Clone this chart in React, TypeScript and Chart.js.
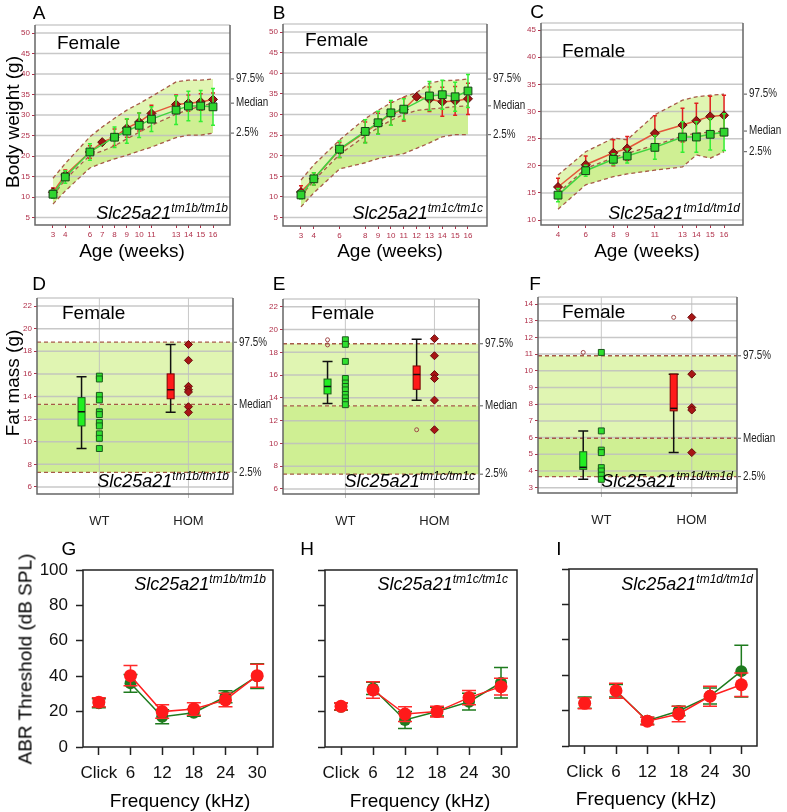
import React, { useEffect, useRef } from 'react';
import { Chart, registerables } from 'chart.js';

Chart.register(...registerables);
Chart.defaults.font.family = '"Liberation Sans", Arial, sans-serif';

// ---------------- Body weight (A, B, C) ----------------
const weeksA = [3, 4, 6, 7, 8, 9, 10, 11, 13, 14, 15, 16];
const wtA = [10.7, 14.9, 21.0, null, 24.6, 26.1, 27.5, 29.0, 31.2, 32.2, 32.2, 32.0];
const wtErrA = [1.0, 1.5, 2.0, null, 2.5, 3.0, 3.0, 3.0, 3.5, 3.6, 3.8, 4.5];
const homA = [11.2, 15.4, 21.0, 23.4, 24.6, 26.8, 28.3, 30.4, 32.6, 32.9, 33.2, 33.8];
const homErrA = [1.0, 1.2, 1.5, 0.5, 2.0, 2.2, 2.2, 2.0, 2.3, 2.0, 2.0, 1.6];
const upperA = [14.6, 18.2, 24.7, 27.1, 29.2, 31.2, 32.8, 34.5, 38.1, 38.5, 38.5, 38.8];
const medianA = [10.3, 14.3, 20.2, 21.2, 22.5, 24.2, 25.8, 27.5, 30.2, 31.3, 32.2, 32.9];
const lowerA = [8.3, 11.5, 17.1, 18.3, 19.3, 20.2, 21.2, 22.2, 24.5, 25.1, 25.1, 25.6];

const weeksB = [3, 4, 6, 8, 9, 10, 11, 12, 13, 14, 15, 16];
const wtB = [10.5, 14.4, 21.6, 25.9, 28.0, 30.4, 31.3, null, 34.5, 34.8, 34.3, 35.7];
const wtErrB = [1.0, 1.5, 2.0, 2.8, 2.8, 3.0, 2.5, null, 3.5, 3.5, 3.5, 4.0];
const homB = [11.2, 14.4, 21.4, 25.7, 27.8, 30.2, 31.2, 34.3, 33.7, 33.1, 33.3, 33.8];
const homErrB = [1.5, 1.5, 1.8, 2.5, 2.5, 2.8, 2.8, 0.5, 3.0, 3.5, 3.5, 3.8];
const upperB = [14.1, 17.8, 23.8, 29.0, 31.0, 32.8, 34.3, 35.3, 37.6, 38.2, 38.3, 38.6];
const medianB = [10.2, 14.0, 20.3, 24.8, 26.8, 28.6, 30.0, 31.0, 31.3, 31.6, 31.9, 32.1];
const lowerB = [7.6, 11.0, 16.8, 18.3, 19.3, 19.9, 20.5, 21.8, 23.1, 24.6, 25.1, 25.1];

const weeksC = [4, 6, 8, 9, 11, 13, 14, 15, 16];
const wtC = [14.6, 19.1, 21.2, 21.8, 23.4, 25.3, 25.3, 25.8, 26.2];
const wtErrC = [1.2, 1.0, 1.0, 1.3, 2.2, 2.8, 2.8, 2.9, 3.4];
const homC = [16.1, 20.2, 22.4, 23.2, 26.0, 27.5, 28.3, 29.1, 29.3];
const homErrC = [1.6, 1.6, 2.4, 2.2, 3.2, 3.1, 3.2, 3.7, 3.7];
const upperC = [18.3, 22.6, 25.1, 24.8, 29.4, 32.1, 32.7, 33.0, 33.2];
const medianC = [15.0, 19.5, 21.5, 22.3, 23.8, 25.5, 26.0, 26.2, 26.4];
const lowerC = [12.0, 16.5, 18.0, 18.5, 19.2, 19.8, 22.0, 21.4, 22.6];

const yTicksAB = [5, 10, 15, 20, 25, 30, 35, 40, 45, 50];
const yTicksC = [10, 15, 20, 25, 30, 35, 40, 45];

// ---------------- Fat mass (D, E, F) ----------------
// box stats: [whisker low, q1, median, q3, whisker high]
const boxWtD = [9.4, 11.4, 12.65, 13.9, 15.75];
const ptsWtD = [15.8, 15.55, 14.1, 13.7, 12.65, 12.4, 11.7, 11.4, 10.7, 10.3, 9.4];
const outWtD: number[] = [];
const boxHomD = [12.6, 13.8, 14.6, 16.0, 18.6];
const ptsHomD = [18.6, 17.2, 14.9, 14.6, 14.4, 13.1, 12.6];
const outHomD: number[] = [];
const refD = [18.8, 13.3, 7.3];

const boxWtE = [13.5, 14.35, 15.0, 15.65, 17.2];
const ptsWtE = [19.1, 18.7, 17.2, 15.7, 15.3, 15.0, 14.7, 14.3, 14.0, 13.7, 13.4];
const outWtE = [19.1, 18.65];
const boxHomE = [13.8, 14.75, 16.05, 16.8, 19.15];
const ptsHomE = [19.2, 17.7, 16.05, 15.7, 13.8, 11.2];
const outHomE = [11.2];
const refE = [18.75, 13.3, 7.3];

const boxWtF = [3.5, 4.1, 4.22, 5.15, 6.4];
const ptsWtF = [11.1, 6.4, 5.25, 5.1, 4.2, 4.0, 3.75, 3.5];
const outWtF = [11.1];
const boxHomF = [5.1, 7.6, 7.75, 9.8, 9.8];
const ptsHomF = [13.2, 9.8, 7.8, 7.65, 5.1];
const outHomF = [13.2];
const refF = [10.9, 5.96, 3.66];

const yTicksDE = [6, 8, 10, 12, 14, 16, 18, 20, 22];
const yTicksF = [3, 4, 5, 6, 7, 8, 9, 10, 11, 12, 13, 14];
const groupLabels = ['WT', 'HOM'];
const refLabels = ['97.5%', 'Median', '2.5%'];

// ---------------- ABR (G, H, I) ----------------
const freqLabels = ['Click', '6', '12', '18', '24', '30'];
const wtG = [24.7, 36.0, 17.1, 19.4, 28.4, 40.0];
const wtErrG = [2.5, 5.0, 4.0, 2.0, 3.4, 7.0];
const homG = [25.3, 40.3, 20.0, 21.5, 26.6, 40.3];
const homErrG = [2.5, 5.7, 3.8, 3.5, 3.8, 6.5];
const wtH = [22.8, 33.1, 15.3, 20.0, 25.6, 36.3];
const wtErrH = [2.0, 3.5, 4.8, 2.5, 4.7, 8.6];
const homH = [23.0, 32.2, 18.6, 20.0, 27.9, 34.1];
const homErrH = [2.0, 4.7, 4.2, 3.0, 4.0, 4.7];
const wtI = [24.5, 31.2, 14.3, 19.8, 28.2, 42.3];
const wtErrI = [3.2, 3.5, 2.0, 2.7, 4.5, 14.6];
const homI = [24.1, 31.2, 14.0, 18.1, 28.1, 34.6];
const homErrI = [3.0, 4.2, 2.2, 4.4, 5.7, 6.7];
const yTicksABR = [0, 20, 40, 60, 80, 100];

// ---------------- styles ----------------
const MAROON = '#b0304a';
const BAND_UP = '#e0f5b2';
const BAND_LO = '#cfef93';
const BAND_LINE = '#a65a48';
const GRID = 'rgba(190,190,190,0.85)';

const errorBarPlugin = {
  id: 'errorBars',
  beforeDatasetDraw(chart: any, args: any) {
    const ds = chart.data.datasets[args.index];
    if (!ds.errors) return;
    const meta = chart.getDatasetMeta(args.index);
    const y = chart.scales.y;
    const ctx = chart.ctx;
    ctx.save();
    ctx.strokeStyle = ds.errColor;
    ctx.lineWidth = ds.errWidth || 1.5;
    meta.data.forEach((el: any, i: number) => {
      const e = ds.errors[i];
      const raw = ds.data[i];
      const v = raw !== null && typeof raw === 'object' ? raw.y : raw;
      if (e == null || v == null) return;
      const yt = y.getPixelForValue(v + e);
      const yb = y.getPixelForValue(v - e);
      const x = el.x;
      const c = ds.capW / 2;
      ctx.beginPath();
      ctx.moveTo(x, yt); ctx.lineTo(x, yb);
      ctx.moveTo(x - c, yt); ctx.lineTo(x + c, yt);
      ctx.moveTo(x - c, yb); ctx.lineTo(x + c, yb);
      ctx.stroke();
    });
    ctx.restore();
  },
};
Chart.register(errorBarPlugin);

function decorPlugin(cfg: any) {
  return {
    id: 'decor',
    beforeDatasetsDraw(chart: any) {
      const { ctx, chartArea: ca, scales } = chart;
      const x = scales.x, y = scales.y;
      ctx.save();
      if (cfg.band) {
        const b = cfg.band;
        const px = b.xs.map((v: number) => x.getPixelForValue(v));
        const py = (arr: number[]) => arr.map((v) => y.getPixelForValue(v));
        const U = py(b.upper), M = py(b.median), L = py(b.lower);
        const poly = (top: number[], bot: number[], color: string) => {
          ctx.beginPath();
          px.forEach((xx: number, i: number) => (i ? ctx.lineTo(xx, top[i]) : ctx.moveTo(xx, top[i])));
          for (let i = px.length - 1; i >= 0; i--) ctx.lineTo(px[i], bot[i]);
          ctx.closePath();
          ctx.fillStyle = color;
          ctx.fill();
        };
        poly(U, M, BAND_UP);
        poly(M, L, BAND_LO);
      }
      if (cfg.grid) {
        ctx.strokeStyle = GRID;
        ctx.lineWidth = 1.5;
        y.ticks.forEach((t: any) => {
          const yy = y.getPixelForValue(t.value);
          ctx.beginPath(); ctx.moveTo(ca.left, yy); ctx.lineTo(ca.right, yy); ctx.stroke();
        });
        if (cfg.vgrid) {
          ctx.lineWidth = 1;
          cfg.vgrid.forEach((v: number) => {
            const xx = x.getPixelForValue(v);
            ctx.beginPath(); ctx.moveTo(xx, ca.top); ctx.lineTo(xx, ca.bottom); ctx.stroke();
          });
        }
      }
      if (cfg.band) {
        const b = cfg.band;
        ctx.setLineDash([4, 3]);
        ctx.strokeStyle = BAND_LINE;
        ctx.lineWidth = 1.3;
        [b.upper, b.median, b.lower].forEach((arr: number[]) => {
          ctx.beginPath();
          arr.forEach((v, i) => {
            const xx = x.getPixelForValue(b.xs[i]);
            const yy = y.getPixelForValue(v);
            i ? ctx.lineTo(xx, yy) : ctx.moveTo(xx, yy);
          });
          ctx.stroke();
        });
        ctx.setLineDash([]);
      }
      if (cfg.boxes) {
        cfg.boxes.forEach((bx: any) => {
          const xc = x.getPixelForValue(bx.x);
          const [lo, q1, med, q3, hi] = bx.stats.map((v: number) => y.getPixelForValue(v));
          const hw = 3.5, cw = 5;
          ctx.strokeStyle = '#111';
          ctx.lineWidth = 1.5;
          ctx.beginPath();
          ctx.moveTo(xc, hi); ctx.lineTo(xc, q3);
          ctx.moveTo(xc, q1); ctx.lineTo(xc, lo);
          ctx.moveTo(xc - cw, hi); ctx.lineTo(xc + cw, hi);
          ctx.moveTo(xc - cw, lo); ctx.lineTo(xc + cw, lo);
          ctx.stroke();
          ctx.fillStyle = bx.fill;
          ctx.fillRect(xc - hw, q3, 2 * hw, q1 - q3);
          ctx.strokeStyle = bx.edge;
          ctx.lineWidth = 1;
          ctx.strokeRect(xc - hw, q3, 2 * hw, q1 - q3);
          ctx.strokeStyle = '#111';
          ctx.lineWidth = 1.5;
          ctx.beginPath(); ctx.moveTo(xc - hw, med); ctx.lineTo(xc + hw, med); ctx.stroke();
        });
      }
      ctx.restore();
    },
    afterDatasetsDraw(chart: any) {
      const { ctx, chartArea: ca, scales } = chart;
      const y = scales.y;
      ctx.save();
      if (cfg.frame === 'soft') {
        ctx.strokeStyle = '#cccccc';
        ctx.lineWidth = 1.5;
        ctx.beginPath(); ctx.moveTo(ca.left, ca.top); ctx.lineTo(ca.right, ca.top); ctx.stroke();
        ctx.strokeStyle = '#666';
        ctx.beginPath();
        ctx.moveTo(ca.left, ca.top); ctx.lineTo(ca.left, ca.bottom); ctx.lineTo(ca.right, ca.bottom); ctx.lineTo(ca.right, ca.top);
        ctx.stroke();
      } else if (cfg.frame === 'hard') {
        ctx.strokeStyle = '#222';
        ctx.lineWidth = 1.5;
        ctx.strokeRect(ca.left, ca.top, ca.right - ca.left, ca.bottom - ca.top);
      }
      if (cfg.band) {
        const b = cfg.band;
        const n = b.xs.length - 1;
        ctx.font = '12px "Liberation Sans", Arial, sans-serif';
        ctx.fillStyle = '#222';
        ctx.textBaseline = 'middle';
        ctx.textAlign = 'left';
        ctx.strokeStyle = '#555';
        ctx.lineWidth = 1;
        [b.upper, b.median, b.lower].forEach((arr: number[], k: number) => {
          const yy = y.getPixelForValue(arr[n]);
          ctx.beginPath(); ctx.moveTo(ca.right + 1, yy); ctx.lineTo(ca.right + 4, yy); ctx.stroke();
          ctx.save();
          ctx.translate(ca.right + 6, yy);
          ctx.scale(0.82, 1);
          ctx.fillText(refLabels[k], 0, 0);
          ctx.restore();
        });
      }
      ctx.restore();
    },
  };
}

function fixedTicks(values: number[]) {
  return (scale: any) => {
    scale.ticks = values.map((v) => ({ value: v }));
  };
}

function growthConfig(p: any) {
  const series = (ys: any[], es: any[]) => {
    const data: any[] = [];
    const errs: any[] = [];
    p.weeks.forEach((w: number, i: number) => {
      if (ys[i] == null) return;
      data.push({ x: w, y: ys[i] });
      errs.push(es[i]);
    });
    return { data, errs };
  };
  const g = series(p.wt, p.wtErr);
  const r = series(p.hom, p.homErr);
  return {
    type: 'line',
    data: {
      datasets: [
        {
          data: g.data, errors: g.errs, errColor: '#33ee33', capW: 4, errWidth: 1.5,
          borderColor: '#3fd43f', borderWidth: 1.5, pointStyle: 'rect', pointRadius: 5.5,
          pointBackgroundColor: '#2fd52f', pointBorderColor: '#173f17', pointBorderWidth: 1,
        },
        {
          data: r.data, errors: r.errs, errColor: '#e02020', capW: 4, errWidth: 1.5,
          borderColor: '#e4573a', borderWidth: 1.5, pointStyle: 'rectRot', pointRadius: 4.5,
          pointBackgroundColor: '#a01515', pointBorderColor: '#5a0a0a', pointBorderWidth: 1,
        },
      ],
    },
    options: {
      animation: false, responsive: false, devicePixelRatio: 1,
      layout: { padding: { top: p.padTop, right: p.padRight, left: 0, bottom: 0 } },
      plugins: { legend: { display: false }, tooltip: { enabled: false } },
      scales: {
        x: {
          type: 'linear', min: p.xMin, max: p.xMax,
          afterBuildTicks: fixedTicks(p.weeks),
          afterFit: (s: any) => { s.height = p.xH; },
          grid: { drawOnChartArea: false, tickLength: 3, tickColor: MAROON },
          border: { display: false },
          ticks: { font: { size: 8 }, color: MAROON, padding: 2, maxRotation: 0, autoSkip: false, callback: (v: any) => String(v) },
        },
        y: {
          type: 'linear', min: p.yMin, max: p.yMax,
          afterBuildTicks: fixedTicks(p.yTicks),
          afterFit: (s: any) => { s.width = p.yW; },
          grid: { drawOnChartArea: false, tickLength: 3, tickColor: MAROON },
          border: { display: false },
          ticks: { font: { size: 8 }, color: MAROON, padding: 2, callback: (v: any) => String(v) },
        },
      },
    },
    plugins: [decorPlugin({
      band: { xs: p.weeks, upper: p.upper, median: p.median, lower: p.lower },
      grid: true, frame: 'soft',
    })],
  };
}

const groupPos = [1, 2];
const pointsShift = 0.2;

function boxConfig(p: any) {
  const px = groupPos.map((g) => g + pointsShift);
  return {
    type: 'scatter',
    data: {
      datasets: [
        {
          data: p.ptsWt.map((v: number) => ({ x: px[0], y: v })),
          pointStyle: 'rect', pointRadius: 4.2,
          pointBackgroundColor: '#2fe02f', pointBorderColor: '#1a5a1a', pointBorderWidth: 1,
        },
        {
          data: p.ptsHom.map((v: number) => ({ x: px[1], y: v })),
          pointStyle: 'rectRot', pointRadius: 4,
          pointBackgroundColor: '#a81515', pointBorderColor: '#6a0c0c', pointBorderWidth: 1,
        },
        {
          data: [
            ...p.outWt.map((v: number) => ({ x: groupPos[0], y: v })),
            ...p.outHom.map((v: number) => ({ x: groupPos[1], y: v })),
          ],
          pointStyle: 'circle', pointRadius: 2,
          pointBackgroundColor: 'rgba(255,255,255,0)', pointBorderColor: '#a04848', pointBorderWidth: 1,
        },
      ],
    },
    options: {
      animation: false, responsive: false, devicePixelRatio: 1,
      layout: { padding: { top: p.padTop, right: p.padRight, left: 0, bottom: 0 } },
      plugins: { legend: { display: false }, tooltip: { enabled: false } },
      scales: {
        x: {
          type: 'linear', min: 0.5, max: 2.7,
          afterBuildTicks: fixedTicks(px),
          afterFit: (s: any) => { s.height = p.xH; },
          grid: { drawOnChartArea: false, tickLength: 4, tickColor: '#bbb' },
          border: { display: false },
          ticks: { font: { size: 13 }, color: '#222', padding: 16, maxRotation: 0, autoSkip: false, callback: (_v: any, i: number) => groupLabels[i] },
        },
        y: {
          type: 'linear', min: p.yMin, max: p.yMax,
          afterBuildTicks: fixedTicks(p.yTicks),
          afterFit: (s: any) => { s.width = p.yW; },
          grid: { drawOnChartArea: false, tickLength: 3, tickColor: MAROON },
          border: { display: false },
          ticks: { font: { size: 8 }, color: MAROON, padding: 2, callback: (v: any) => String(v) },
        },
      },
    },
    plugins: [decorPlugin({
      band: { xs: [0.5, 2.7], upper: [p.ref[0], p.ref[0]], median: [p.ref[1], p.ref[1]], lower: [p.ref[2], p.ref[2]] },
      grid: true, vgrid: px, frame: 'soft',
      boxes: [
        { x: groupPos[0], stats: p.boxWt, fill: '#22ee22', edge: '#1a5a1a' },
        { x: groupPos[1], stats: p.boxHom, fill: '#ff1a1a', edge: '#700' },
      ],
    })],
  };
}

function abrConfig(p: any) {
  const seg = (color: string) => ({ borderColor: (c: any) => (c.p0DataIndex === 0 ? 'rgba(0,0,0,0)' : color) });
  return {
    type: 'line',
    data: {
      labels: freqLabels,
      datasets: [
        {
          data: p.hom, errors: p.homErr, errColor: '#ff2a2a', capW: 14, errWidth: 1.5,
          borderColor: '#ff2020', borderWidth: 1.5, segment: seg('#ff2020'),
          pointStyle: 'circle', pointRadius: 6.5, pointBackgroundColor: '#ff1a1a', pointBorderColor: '#ff1a1a', pointBorderWidth: 0,
        },
        {
          data: p.wt, errors: p.wtErr, errColor: '#1e7b1e', capW: 14, errWidth: 1.5,
          borderColor: '#1e7b1e', borderWidth: 1.5, segment: seg('#1e7b1e'),
          pointStyle: 'circle', pointRadius: 6, pointBackgroundColor: '#1e7b1e', pointBorderColor: '#1e7b1e', pointBorderWidth: 0,
        },
      ],
    },
    options: {
      animation: false, responsive: false, devicePixelRatio: 1,
      layout: { padding: { top: p.padTop, right: p.padRight, left: 0, bottom: 0 } },
      plugins: { legend: { display: false }, tooltip: { enabled: false } },
      scales: {
        x: {
          type: 'category', offset: true,
          afterFit: (s: any) => { s.height = p.xH; },
          grid: { drawOnChartArea: false, offset: false, tickLength: 8, tickColor: '#222', tickWidth: 1.5 },
          border: { display: false },
          ticks: { font: { size: 17 }, color: '#111', padding: 8, maxRotation: 0, autoSkip: false },
        },
        y: {
          type: 'linear', min: 0, max: 100,
          afterBuildTicks: fixedTicks(yTicksABR),
          afterFit: (s: any) => { s.width = p.yW; },
          grid: { drawOnChartArea: false, tickLength: 7, tickColor: '#222', tickWidth: 1.5 },
          border: { display: false },
          ticks: { font: { size: 17 }, color: '#111', padding: 8, callback: (v: any) => (p.showY ? String(v) : '') },
        },
      },
    },
    plugins: [decorPlugin({ frame: 'hard' })],
  };
}

function ChartCanvas({ left, top, w, h, config }: any) {
  const ref = useRef<HTMLCanvasElement>(null);
  useEffect(() => {
    const chart = new Chart(ref.current as any, config() as any);
    return () => chart.destroy();
  }, []);
  return <canvas ref={ref} width={w} height={h} style={{ position: 'absolute', left, top, width: w, height: h }} />;
}

function T({ x, y, children, size = 19, rotate = false, anchor = 'center', italic = false }: any) {
  const tx = anchor === 'center' ? '-50%' : anchor === 'right' ? '-100%' : '0';
  return (
    <div style={{
      position: 'absolute', left: x, top: y,
      transform: `translate(${tx}, -50%)${rotate ? ' rotate(-90deg)' : ''}`,
      fontSize: size, lineHeight: 1, whiteSpace: 'nowrap', color: '#000',
      fontStyle: italic ? 'italic' : 'normal',
    }}>{children}</div>
  );
}

function Gene({ xr, base, sup }: any) {
  return (
    <div style={{
      position: 'absolute', right: 787 - xr, top: base - 15.25,
      fontSize: 18, lineHeight: '18px', fontStyle: 'italic', whiteSpace: 'nowrap', color: '#000',
    }}>
      Slc25a21<span style={{ fontSize: 12, position: 'relative', top: -7 }}>{sup}</span>
    </div>
  );
}

export default function App() {
  const growth = [
    { left: 0, top: 0, w: 285, h: 245, yW: 35, padTop: 25, padRight: 55, xH: 20, xMin: 1.54, xMax: 17.38, yMin: 3.2, yMax: 51.95, weeks: weeksA, yTicks: yTicksAB, wt: wtA, wtErr: wtErrA, hom: homA, homErr: homErrA, upper: upperA, median: medianA, lower: lowerA },
    { left: 265, top: 0, w: 280, h: 246, yW: 18, padTop: 24, padRight: 58, xH: 20, xMin: 1.6, xMax: 17.48, yMin: 2.96, yMax: 51.95, weeks: weeksB, yTicks: yTicksAB, wt: wtB, wtErr: wtErrB, hom: homB, homErr: homErrB, upper: upperB, median: medianB, lower: lowerB },
    { left: 525, top: 0, w: 262, h: 245, yW: 16, padTop: 23, padRight: 44, xH: 20, xMin: 2.77, xMax: 17.37, yMin: 9.1, yMax: 46.3, weeks: weeksC, yTicks: yTicksC, wt: wtC, wtErr: wtErrC, hom: homC, homErr: homErrC, upper: upperC, median: medianC, lower: lowerC },
  ];
  const boxes = [
    { left: 0, top: 270, w: 285, h: 262, yW: 37, padTop: 28, padRight: 52, xH: 38, yMin: 5.38, yMax: 22.71, yTicks: yTicksDE, ptsWt: ptsWtD, ptsHom: ptsHomD, outWt: outWtD, outHom: outHomD, boxWt: boxWtD, boxHom: boxHomD, ref: refD },
    { left: 265, top: 270, w: 280, h: 262, yW: 18, padTop: 29, padRight: 66, xH: 38, yMin: 5.56, yMax: 22.68, yTicks: yTicksDE, ptsWt: ptsWtE, ptsHom: ptsHomE, outWt: outWtE, outHom: outHomE, boxWt: boxWtE, boxHom: boxHomE, ref: refE },
    { left: 525, top: 270, w: 262, h: 262, yW: 13, padTop: 27, padRight: 50, xH: 39, yMin: 2.68, yMax: 14.42, yTicks: yTicksF, ptsWt: ptsWtF, ptsHom: ptsHomF, outWt: outWtF, outHom: outHomF, boxWt: boxWtF, boxHom: boxHomF, ref: refF },
  ];
  const abr = [
    { left: 0, top: 540, w: 290, h: 272, yW: 83, padTop: 30, padRight: 17, xH: 65, showY: true, wt: wtG, wtErr: wtErrG, hom: homG, homErr: homErrG },
    { left: 290, top: 540, w: 240, h: 272, yW: 35, padTop: 30, padRight: 13, xH: 65, showY: false, wt: wtH, wtErr: wtErrH, hom: homH, homErr: homErrH },
    { left: 530, top: 540, w: 257, h: 272, yW: 39, padTop: 29, padRight: 30, xH: 66, showY: false, wt: wtI, wtErr: wtErrI, hom: homI, homErr: homErrI },
  ];
  return (
    <div style={{ position: 'absolute', left: 0, top: 0, width: 787, height: 812, background: '#fff', overflow: 'hidden', fontFamily: '"Liberation Sans", Arial, sans-serif' }}>
      {growth.map((p, i) => <ChartCanvas key={'g' + i} left={p.left} top={p.top} w={p.w} h={p.h} config={() => growthConfig(p)} />)}
      {boxes.map((p, i) => <ChartCanvas key={'b' + i} left={p.left} top={p.top} w={p.w} h={p.h} config={() => boxConfig(p)} />)}
      {abr.map((p, i) => <ChartCanvas key={'a' + i} left={p.left} top={p.top} w={p.w} h={p.h} config={() => abrConfig(p)} />)}

      <T x={39} y={12}>A</T>
      <T x={279} y={12}>B</T>
      <T x={537} y={11}>C</T>
      <T x={39} y={283}>D</T>
      <T x={279} y={283}>E</T>
      <T x={535} y={283}>F</T>
      <T x={69} y={548}>G</T>
      <T x={307} y={548}>H</T>
      <T x={559} y={548}>I</T>

      <T x={57} y={42} anchor="left">Female</T>
      <T x={305} y={39} anchor="left">Female</T>
      <T x={562} y={50} anchor="left">Female</T>
      <T x={62} y={312} anchor="left">Female</T>
      <T x={311} y={312} anchor="left">Female</T>
      <T x={562} y={311} anchor="left">Female</T>

      <T x={12} y={122} rotate>Body weight (g)</T>
      <T x={12} y={383} rotate>Fat mass (g)</T>
      <T x={25} y={659} rotate>ABR Threshold (dB SPL)</T>

      <T x={132} y={250}>Age (weeks)</T>
      <T x={390} y={250}>Age (weeks)</T>
      <T x={647} y={250}>Age (weeks)</T>

      <T x={180} y={800}>Frequency (kHz)</T>
      <T x={420} y={800}>Frequency (kHz)</T>
      <T x={646} y={798}>Frequency (kHz)</T>

      <Gene xr={228} base={219} sup="tm1b/tm1b" />
      <Gene xr={483} base={219} sup="tm1c/tm1c" />
      <Gene xr={740} base={219} sup="tm1d/tm1d" />
      <Gene xr={229} base={487} sup="tm1b/tm1b" />
      <Gene xr={475} base={487} sup="tm1c/tm1c" />
      <Gene xr={733} base={487} sup="tm1d/tm1d" />
      <Gene xr={266} base={590} sup="tm1b/tm1b" />
      <Gene xr={508} base={590} sup="tm1c/tm1c" />
      <Gene xr={753} base={590} sup="tm1d/tm1d" />
    </div>
  );
}
